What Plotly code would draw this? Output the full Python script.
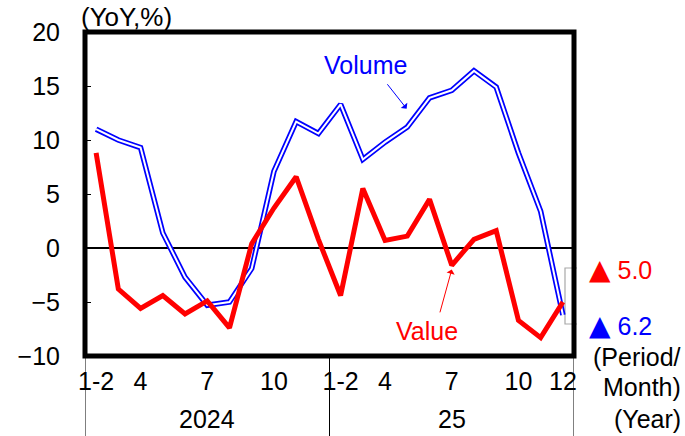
import plotly.graph_objects as go

# Period labels: 2024 and 2025, with January-February combined
periods = ["1-2", "3", "4", "5", "6", "7", "8", "9", "10", "11", "12",
           "1-2", "3", "4", "5", "6", "7", "8", "9", "10", "11", "12"]
years = ["2024", "25"]
year_lengths = [11, 11]

# Year-on-year change, %
value = [8.8, -3.8, -5.6, -4.4, -6.1, -4.9, -7.4, 0.4, 3.7, 6.6, 0.8,
         -4.4, 5.5, 0.7, 1.1, 4.5, -1.6, 0.8, 1.6, -6.7, -8.3, -5.0]
volume = [11.0, 10.0, 9.3, 1.4, -2.7, -5.3, -5.0, -1.9, 7.1, 11.7, 10.6,
          13.3, 8.2, 9.8, 11.2, 13.9, 14.6, 16.4, 14.9, 8.8, 3.4, -6.2]

x_tick_idx = [0, 2, 5, 8, 11, 13, 16, 19, 21]
x_tick_text = [periods[i] for i in x_tick_idx]
y_ticks = [-10, -5, 0, 5, 10, 15, 20]

FONT = "Liberation Sans, Arial, sans-serif"
RED = "#FF0000"
BLUE = "#0000FF"
FS = 25

x = list(range(len(periods)))

fig = go.Figure()
# Volume drawn as a double line: blue outer stroke with a white core
fig.add_trace(go.Scatter(x=x, y=volume, mode="lines",
                         line=dict(color=BLUE, width=5.5), hoverinfo="skip"))
fig.add_trace(go.Scatter(x=x, y=volume, mode="lines",
                         line=dict(color="white", width=2), hoverinfo="skip"))
fig.add_trace(go.Scatter(x=x, y=value, mode="lines",
                         line=dict(color=RED, width=5), hoverinfo="skip"))

L, R, T, B = 85, 111, 32, 80
W, H = 685, 436
plot_h = H - T - B

def py(px):
    """pixel row -> paper y"""
    return (H - B - px) / plot_h

def pxp(px):
    """pixel column -> paper x"""
    return (px - L) / (W - L - R)

fig.update_layout(
    width=W, height=H,
    margin=dict(l=L, r=R, t=T, b=B, pad=0),
    paper_bgcolor="white", plot_bgcolor="white",
    showlegend=False,
    font=dict(family=FONT, size=FS, color="black"),
    xaxis=dict(range=[-0.5, len(periods) - 0.5], tickvals=x_tick_idx,
               ticktext=x_tick_text, showgrid=False, zeroline=False,
               showline=False, ticks="", tickfont=dict(size=FS),
               ticklabelstandoff=8),
    yaxis=dict(range=[-10, 20], tickvals=y_ticks, showgrid=False,
               zeroline=True, zerolinecolor="black", zerolinewidth=1.5,
               showline=False, ticks="inside", ticklen=6, tickwidth=1,
               tickcolor="black", tickfont=dict(size=FS),
               ticklabelstandoff=24),
)

# Heavy plot frame
fig.add_shape(type="rect", xref="paper", yref="paper", x0=0, x1=1, y0=0, y1=1,
              line=dict(color="black", width=5), layer="above")

# Year separators below the axis
edges = [-0.5]
for n in year_lengths:
    edges.append(edges[-1] + n)
for e in edges:
    fig.add_shape(type="line", xref="x", yref="paper", x0=e, x1=e,
                  y0=0, y1=-B / plot_h, line=dict(color="black", width=1))

# Year labels centred under each year block
start = 0
for yr, n in zip(years, year_lengths):
    fig.add_annotation(x=start + 5, y=py(419), xref="x", yref="paper",
                       text=yr, showarrow=False, yanchor="middle",
                       font=dict(size=FS))
    start += n

# Axis unit labels
fig.add_annotation(x=pxp(79), y=py(17), xref="paper", yref="paper",
                   text="(YoY,%)", showarrow=False, xanchor="left",
                   yanchor="middle", font=dict(size=26))
for txt, yy in [("(Period/", 357), ("Month)", 387), ("(Year)", 419)]:
    fig.add_annotation(x=pxp(683), y=py(yy), xref="paper", yref="paper",
                       text=txt, showarrow=False, xanchor="right",
                       yanchor="middle", font=dict(size=FS))

# Series labels with arrows
fig.add_annotation(x=13.97, y=12.9, ax=13.05, ay=15.3, xref="x", yref="y",
                   axref="x", ayref="y", text="", showarrow=True,
                   arrowhead=1, arrowsize=1.4, arrowwidth=1, arrowcolor=BLUE)
fig.add_annotation(x=12.14, y=16.9, xref="x", yref="y", text="Volume",
                   showarrow=False, font=dict(size=FS, color=BLUE))
fig.add_annotation(x=16.0, y=-2.0, ax=15.45, ay=-6.1, xref="x", yref="y",
                   axref="x", ayref="y", text="", showarrow=True,
                   arrowhead=1, arrowsize=1.4, arrowwidth=1, arrowcolor=RED)
fig.add_annotation(x=14.88, y=-7.7, xref="x", yref="y", text="Value",
                   showarrow=False, font=dict(size=FS, color=RED))

# Latest readings (▲ marks a decline)
TRI = "<span style='font-family:DejaVu Sans;font-size:28px'>▲</span>"

def fmt(v):
    return (TRI + " " if v < 0 else "") + f"{abs(v):.1f}"

fig.add_annotation(x=pxp(587), y=py(269), xref="paper", yref="paper",
                   text=fmt(value[-1]), showarrow=False, xanchor="left",
                   yanchor="middle", font=dict(size=FS, color=RED))
fig.add_annotation(x=pxp(587), y=py(325), xref="paper", yref="paper",
                   text=fmt(volume[-1]), showarrow=False, xanchor="left",
                   yanchor="middle", font=dict(size=FS, color=BLUE))

# Bracket linking the readings to the line ends
gray = dict(color="#A8A8A8", width=1.2)
fig.add_shape(type="path", xref="paper", yref="paper",
              path=f"M {pxp(577)} {py(268)} L {pxp(565)} {py(268)} "
                   f"L {pxp(565)} {py(324)} L {pxp(577)} {py(324)}",
              line=gray, layer="below")

fig.write_html("out.html")
